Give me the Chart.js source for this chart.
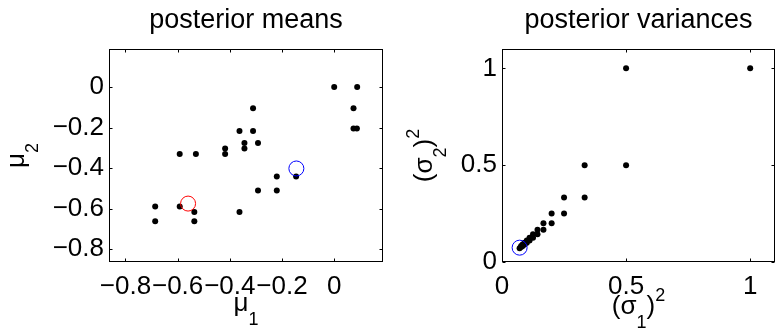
<!DOCTYPE html>
<html>
<head>
<meta charset="utf-8">
<script src="https://cdn.jsdelivr.net/npm/chart.js@4.4.1/dist/chart.umd.min.js"></script>
<style>
  html, body { margin: 0; padding: 0; background: #fff; overflow: hidden; width: 775px; height: 330px; }
  .panel { position: absolute; top: 0; width: 400px; height: 330px; }
  #meansPanel { left: 0; }
  #varsPanel { left: 400px; }
</style>
</head>
<body>
<div class="panel" id="meansPanel"><canvas id="means"></canvas></div>
<div class="panel" id="varsPanel"><canvas id="vars"></canvas></div>
<script>
// posterior means (mu1, mu2)
const meanX = [0, 0.088, 0.074, 0.074, 0.087, -0.311, -0.363, -0.311, -0.344, -0.292, -0.344, -0.418, -0.418,
               -0.592, -0.530, -0.220, -0.146, -0.292, -0.220, -0.363, -0.686, -0.592, -0.536, -0.686, -0.536];
const meanY = [0, 0, -0.105, -0.205, -0.205, -0.105, -0.217, -0.217, -0.276, -0.276, -0.304, -0.304, -0.330,
               -0.330, -0.330, -0.442, -0.442, -0.511, -0.511, -0.617, -0.590, -0.590, -0.617, -0.662, -0.662];
const meanRed = [-0.560, -0.575];
const meanBlue = [-0.145, -0.402];
const meanTicks = [-0.8, -0.6, -0.4, -0.2, 0];
const meanTickLabels = ['\u22120.8', '\u22120.6', '\u22120.4', '\u22120.2', '0'];

// posterior variances (sigma1^2, sigma2^2)
const varX = [1, 0.5, 0.5, 0.333, 0.333, 0.25, 0.25, 0.2, 0.2, 0.167, 0.167, 0.143, 0.143, 0.125, 0.125,
              0.111, 0.111, 0.1, 0.1, 0.091, 0.091, 0.083, 0.083, 0.077, 0.077, 0.071];
const varY = [1, 1, 0.5, 0.5, 0.333, 0.333, 0.25, 0.25, 0.2, 0.2, 0.167, 0.167, 0.143, 0.143, 0.125,
              0.125, 0.111, 0.111, 0.1, 0.1, 0.091, 0.091, 0.083, 0.083, 0.077, 0.071];
const varBlue = [0.071, 0.074];
const varTicks = [0, 0.5, 1];
const varTickLabels = ['0', '0.5', '1'];

const FONT = "'Liberation Sans', Arial, Helvetica, sans-serif";

function toPoints(xs, ys) {
  return xs.map((x, i) => ({ x: x, y: ys[i] }));
}

// text with sub/superscripts, centred on cx along the run direction
function drawRich(ctx, parts, cx, base, vertical) {
  ctx.save();
  if (vertical) {
    ctx.translate(base, cx);
    ctx.rotate(-Math.PI / 2);
  } else {
    ctx.translate(cx, base);
  }
  ctx.fillStyle = '#000';
  ctx.textBaseline = 'alphabetic';
  ctx.textAlign = 'left';
  let w = 0;
  parts.forEach(p => { ctx.font = p.s + 'px ' + FONT; w += ctx.measureText(p.t).width; });
  let x = -w / 2;
  parts.forEach(p => {
    ctx.font = p.s + 'px ' + FONT;
    ctx.fillText(p.t, x, p.dy || 0);
    x += ctx.measureText(p.t).width;
  });
  ctx.restore();
}

// box, inward ticks on all four sides, title and axis labels
const frame = {
  id: 'frame',
  afterDraw(chart, args, opts) {
    const { ctx, chartArea: a, scales } = chart;
    ctx.save();
    ctx.strokeStyle = '#000';
    ctx.lineWidth = 1;
    const l = Math.round(a.left) + 0.5, r = Math.round(a.right) - 0.5;
    const t = Math.round(a.top) + 0.5, b = Math.round(a.bottom) - 0.5;
    ctx.strokeRect(l, t, r - l, b - t);
    ctx.beginPath();
    scales.x.ticks.forEach(tk => {
      const p = Math.round(scales.x.getPixelForValue(tk.value)) + 0.5;
      ctx.moveTo(p, b); ctx.lineTo(p, b - 3);
      ctx.moveTo(p, t); ctx.lineTo(p, t + 3);
    });
    scales.y.ticks.forEach(tk => {
      const p = Math.round(scales.y.getPixelForValue(tk.value)) + 0.5;
      ctx.moveTo(l, p); ctx.lineTo(l + 3, p);
      ctx.moveTo(r, p); ctx.lineTo(r - 3, p);
    });
    ctx.stroke();
    ctx.restore();
    const cx = (a.left + a.right) / 2;
    drawRich(ctx, [{ t: opts.title, s: 27 }], cx, 28, false);
    drawRich(ctx, opts.xLabel, cx, a.bottom + opts.xBase, false);
    drawRich(ctx, opts.yLabel, (a.top + a.bottom) / 2, opts.yBase, true);
  }
};

function makeScale(min, max, ticks, labels, fit) {
  return {
    type: 'linear',
    min: min,
    max: max,
    afterBuildTicks: s => { s.ticks = ticks.map(v => ({ value: v })); },
    afterFit: fit,
    grid: { display: false, drawTicks: false },
    border: { display: false },
    ticks: {
      autoSkip: false,
      maxRotation: 0,
      minRotation: 0,
      color: '#000',
      font: { family: FONT, size: 26 },
      callback: (v, i) => labels[i]
    }
  };
}

function makeChart(id, cfg) {
  const xs = makeScale(cfg.min, cfg.max, cfg.ticks, cfg.labels, s => { s.height = 68; });
  xs.ticks.padding = 9;
  const ys = makeScale(cfg.min, cfg.max, cfg.ticks, cfg.labels, s => { s.width = cfg.yWidth; });
  ys.ticks.padding = 5;

  const datasets = [{
    data: cfg.dots,
    pointRadius: 3,
    pointBackgroundColor: '#000',
    pointBorderWidth: 0,
    order: 2
  }];
  cfg.rings.forEach(rg => datasets.push({
    data: [rg.pt],
    pointRadius: 7.5,
    pointBackgroundColor: 'rgba(0,0,0,0)',
    pointBorderColor: rg.color,
    pointBorderWidth: 1,
    order: 1
  }));

  return new Chart(document.getElementById(id), {
    type: 'scatter',
    data: { datasets: datasets },
    options: {
      responsive: true,
      maintainAspectRatio: false,
      animation: false,
      events: [],
      layout: { padding: { left: 0, right: cfg.padRight, top: 49, bottom: 0 } },
      scales: { x: xs, y: ys },
      plugins: {
        legend: { display: false },
        tooltip: { enabled: false },
        title: { display: false },
        frame: { title: cfg.title, xLabel: cfg.xLabel, xBase: cfg.xBase, yLabel: cfg.yLabel, yBase: cfg.yBase }
      }
    },
    plugins: [frame]
  });
}

makeChart('means', {
  title: 'posterior means',
  min: -0.863, max: 0.187,
  ticks: meanTicks, labels: meanTickLabels,
  yWidth: 109, padRight: 17,
  dots: toPoints(meanX, meanY),
  rings: [
    { pt: { x: meanRed[0], y: meanRed[1] }, color: '#ff0000' },
    { pt: { x: meanBlue[0], y: meanBlue[1] }, color: '#0000ff' }
  ],
  xLabel: [{ t: '\u03bc', s: 26 }, { t: '1', s: 18, dy: 14 }],
  xBase: 49,
  yLabel: [{ t: '\u03bc', s: 26 }, { t: '2', s: 18, dy: 14 }],
  yBase: 24
});

makeChart('vars', {
  title: 'posterior variances',
  min: 0, max: 1.1,
  ticks: varTicks, labels: varTickLabels,
  yWidth: 102, padRight: 25,
  dots: toPoints(varX, varY),
  rings: [
    { pt: { x: varBlue[0], y: varBlue[1] }, color: '#0000ff' }
  ],
  xLabel: [{ t: '(\u03c3', s: 26 }, { t: '1', s: 18, dy: 14 }, { t: ')', s: 26 }, { t: '2', s: 18, dy: -13 }],
  xBase: 52,
  yLabel: [{ t: '(\u03c3', s: 26 }, { t: '2', s: 18, dy: 14 }, { t: ')', s: 26 }, { t: '2', s: 18, dy: -13 }],
  yBase: 32
});
</script>
</body>
</html>
